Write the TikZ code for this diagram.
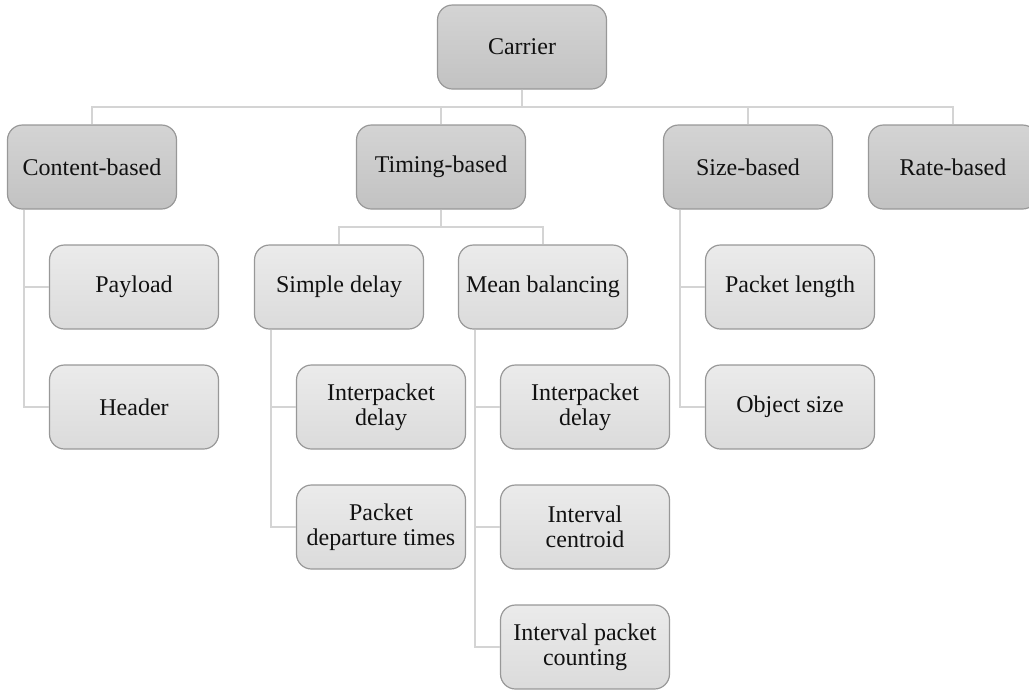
\documentclass[tikz,border=0pt]{standalone}
\usepackage{fontspec}
\setmainfont{Liberation Serif}
\definecolor{lineclr}{HTML}{D4D4D4}
\definecolor{boxborder}{HTML}{989898}
\definecolor{darktop}{HTML}{D4D4D4}
\definecolor{darkbot}{HTML}{C2C2C2}
\definecolor{lighttop}{HTML}{EBEBEB}
\definecolor{lightbot}{HTML}{DBDBDB}
\definecolor{txt}{HTML}{111111}
\tikzset{
  basebox/.style={draw=boxborder, line width=0.6pt, rounded corners=7.5pt,
    minimum width=84.5pt, minimum height=42pt, inner sep=1pt, align=center,
    text=txt, font=\fontsize{12}{12.6}\selectfont},
  topbox/.style={basebox, top color=darktop, bottom color=darkbot},
  subbox/.style={basebox, top color=lighttop, bottom color=lightbot},
  conn/.style={draw=lineclr, line width=0.8pt}
}
\begin{document}
\begin{tikzpicture}[x=0.5pt,y=-0.5pt]
\useasboundingbox (0,0) rectangle (1029,692);
% nodes
\node[topbox] (carrier) at (522,47) {Carrier};
\node[topbox] (content) at (92,167) {Content-based};
\node[topbox] (timing) at (441,167) {Timing-based};
\node[topbox] (size) at (748,167) {Size-based};
\node[topbox] (rate) at (953,167) {Rate-based};
\node[subbox] (payload) at (134,287) {Payload};
\node[subbox] (header) at (134,407) {Header};
\node[subbox] (simple) at (339,287) {Simple delay};
\node[subbox] (mean) at (543,287) {Mean balancing};
\node[subbox] (ipdA) at (381,407) {Interpacket\\delay};
\node[subbox] (pdt) at (381,527) {Packet\\departure times};
\node[subbox] (ipdB) at (585,407) {Interpacket\\delay};
\node[subbox] (ic) at (585,527) {Interval\\centroid};
\node[subbox] (ipc) at (585,647) {Interval packet\\counting};
\node[subbox] (plen) at (790,287) {Packet length};
\node[subbox] (osize) at (790,407) {Object size};
% bus coordinates
\coordinate (busA) at (0,107);
\coordinate (busB) at (0,227);
% top level connectors
\draw[conn] (carrier.south) -- (carrier.south |- busA) -| (content.north);
\draw[conn] (carrier.south) -- (carrier.south |- busA) -| (timing.north);
\draw[conn] (carrier.south) -- (carrier.south |- busA) -| (size.north);
\draw[conn] (carrier.south) -- (carrier.south |- busA) -| (rate.north);
% timing children
\draw[conn] (timing.south) -- (timing.south |- busB) -| (simple.north);
\draw[conn] (timing.south) -- (timing.south |- busB) -| (mean.north);
% side children
\coordinate (cL) at ([xshift=8.5pt]content.south west);
\draw[conn] (cL) |- (payload.west);
\draw[conn] (cL) |- (header.west);
\coordinate (sL) at ([xshift=8.5pt]simple.south west);
\draw[conn] (sL) |- (ipdA.west);
\draw[conn] (sL) |- (pdt.west);
\coordinate (mL) at ([xshift=8.5pt]mean.south west);
\draw[conn] (mL) |- (ipdB.west);
\draw[conn] (mL) |- (ic.west);
\draw[conn] (mL) |- (ipc.west);
\coordinate (zL) at ([xshift=8.5pt]size.south west);
\draw[conn] (zL) |- (plen.west);
\draw[conn] (zL) |- (osize.west);
\end{tikzpicture}
\end{document}
